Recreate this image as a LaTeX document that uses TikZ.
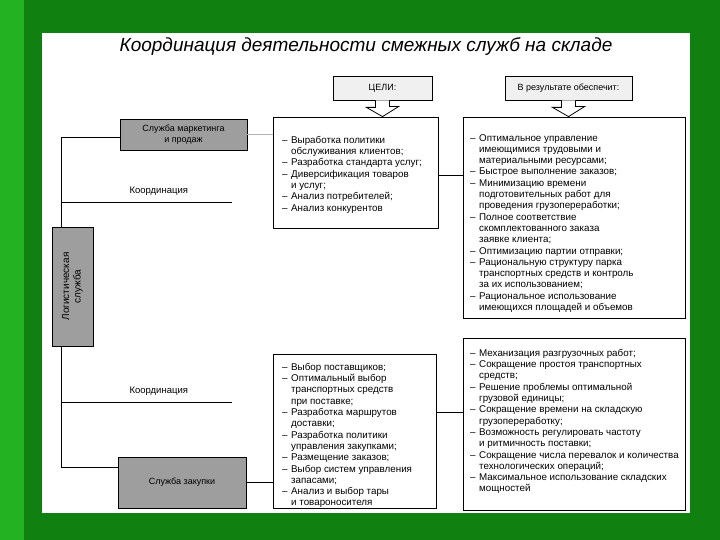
\documentclass[tikz,border=0pt]{standalone}
\usepackage{fontspec}
\setmainfont{Liberation Sans}
\usetikzlibrary{calc}

\definecolor{slidegreen}{RGB}{16,128,16}
\definecolor{stripgreen}{RGB}{34,178,34}
\definecolor{boxgray}{gray}{0.62}

\newcommand{\itm}{\makebox[9pt][l]{–}}
\newcommand{\cnt}{\hspace*{9pt}}

\tikzset{
  frame/.style={draw, line width=0.8pt, inner sep=0pt},
  service/.style={frame, fill=boxgray, align=center,
    font=\fontsize{9}{10.5}\selectfont},
  header/.style={frame, fill=gray!12, font=\fontsize{9}{10}\selectfont},
  listtext/.style={anchor=north west, inner sep=0pt, align=left,
    font=\fontsize{9.8}{11.3}\selectfont},
  link/.style={line width=0.6pt},
  hollow/.style={draw, line width=0.8pt, fill=white},
}

\begin{document}
\begin{tikzpicture}[x=1pt, y=-1pt]
  % slide
  \fill[slidegreen] (0,0) rectangle (720,540);
  \fill[stripgreen] (0,0) rectangle (24,540);
  \fill[white] (42,33) rectangle (690,513);
  \useasboundingbox (0,0) rectangle (720,540);

  \node[font=\fontsize{19}{22}\selectfont\itshape] (title) at (366,47)
    {Координация деятельности смежных служб на складе};

  % headers and arrows
  \node[header, minimum width=99pt, minimum height=24pt] (hdrGoals) at (382.5,88) {ЦЕЛИ:};
  \node[header, minimum width=127pt, minimum height=24pt] (hdrRes) at (568.5,88) {В результате обеспечит:};

  % list boxes
  \node[frame, minimum width=165pt, minimum height=111pt] (goalsA) at (355.5,172.5) {};
  \node[frame, minimum width=222pt, minimum height=201pt] (resA) at (574,217.5) {};
  \node[frame, minimum width=163pt, minimum height=154pt] (goalsB) at (354.5,431) {};
  \node[frame, minimum width=222pt, minimum height=172pt] (resB) at (574,424) {};

  \draw[hollow] ([xshift=-7pt]hdrGoals.south) -- ++(0,7) -- ++(-9,0)
    -- (hdrGoals.south |- goalsA.north) -- ++(16,-10) -- ++(-9,0)
    -- ([xshift=7pt]hdrGoals.south);
  \draw[hollow] ([xshift=-7pt]hdrRes.south) -- ++(0,7) -- ++(-9,0)
    -- (hdrRes.south |- resA.north) -- ++(16,-10) -- ++(-9,0)
    -- ([xshift=7pt]hdrRes.south);

  \node[listtext] (goalsAtext) at (282,136)
    {\itm Выработка политики\\ \cnt обслуживания клиентов;\\
     \itm Разработка стандарта услуг;\\ \itm Диверсификация товаров\\
     \cnt и услуг;\\ \itm Анализ потребителей;\\ \itm Анализ конкурентов};
  \node[listtext] (resAtext) at (470,134)
    {\itm Оптимальное управление\\ \cnt имеющимися трудовыми и\\
     \cnt материальными ресурсами;\\ \itm Быстрое выполнение заказов;\\
     \itm Минимизацию времени\\ \cnt подготовительных работ для\\
     \cnt проведения грузопереработки;\\ \itm Полное соответствие\\
     \cnt скомплектованного заказа\\ \cnt заявке клиента;\\
     \itm Оптимизацию партии отправки;\\ \itm Рациональную структуру парка\\
     \cnt транспортных средств и контроль\\ \cnt за их использованием;\\
     \itm Рациональное использование\\ \cnt имеющихся площадей и объемов};
  \node[listtext] (goalsBtext) at (282,363)
    {\itm Выбор поставщиков;\\ \itm Оптимальный выбор\\
     \cnt транспортных средств\\ \cnt при поставке;\\
     \itm Разработка маршрутов\\ \cnt доставки;\\
     \itm Разработка политики\\ \cnt управления закупками;\\
     \itm Размещение заказов;\\ \itm Выбор систем управления\\
     \cnt запасами;\\ \itm Анализ и выбор тары\\ \cnt и товароносителя};
  \node[listtext] (resBtext) at (470,349)
    {\itm Механизация разгрузочных работ;\\
     \itm Сокращение простоя транспортных\\ \cnt средств;\\
     \itm Решение проблемы оптимальной\\ \cnt грузовой единицы;\\
     \itm Сокращение времени на складскую\\ \cnt грузопереработку;\\
     \itm Возможность регулировать частоту\\ \cnt и ритмичность поставки;\\
     \itm Сокращение числа перевалок и количества\\
     \cnt технологических операций;\\
     \itm Максимальное использование складских\\ \cnt мощностей};

  % services
  \node[service, minimum width=127pt, minimum height=31pt] (mkt) at (183.5,134.5)
    {Служба маркетинга\\и продаж};
  \node[frame, fill=boxgray, minimum width=41pt, minimum height=119pt] (log) at (72.5,286.5) {};
  \node[rotate=90, align=center, font=\fontsize{10}{11.5}\selectfont] (logText) at (log.center)
    {Логистическая\\служба};
  \node[service, minimum width=128pt, minimum height=51pt] (proc) at (182,482.5)
    {Служба закупки};

  % links
  \draw[link] ([yshift=-2.5pt]mkt.west) -| ([xshift=10pt]log.north west);
  \draw[link] ([xshift=10pt]log.south west) |- ([yshift=-11pt]proc.north west);
  \draw[link, gray!60] (mkt.east) -- (mkt.east -| goalsA.west);
  \draw[link] (proc.east) -- (proc.east -| goalsB.west);

  \coordinate (spineA) at (62,202);
  \coordinate (spineAend) at (232,202);
  \coordinate (spineB) at (62,402);
  \coordinate (spineBend) at (232,402);
  \draw[link] (spineA) -- (spineAend);
  \draw[link] (spineB) -- (spineBend);
  \node[anchor=south west, font=\fontsize{9.5}{11}\selectfont] (lblA) at (126,199) {Координация};
  \node[anchor=south west, font=\fontsize{9.5}{11}\selectfont] (lblB) at (126,399) {Координация};

  \coordinate (joinA) at ([yshift=-2.5pt]goalsA.east);
  \coordinate (joinB) at ([yshift=19pt]goalsB.east);
  \draw[link] (joinA) -- (joinA -| resA.west);
  \draw[link] (joinB) -- (joinB -| resB.west);
\end{tikzpicture}
\end{document}
